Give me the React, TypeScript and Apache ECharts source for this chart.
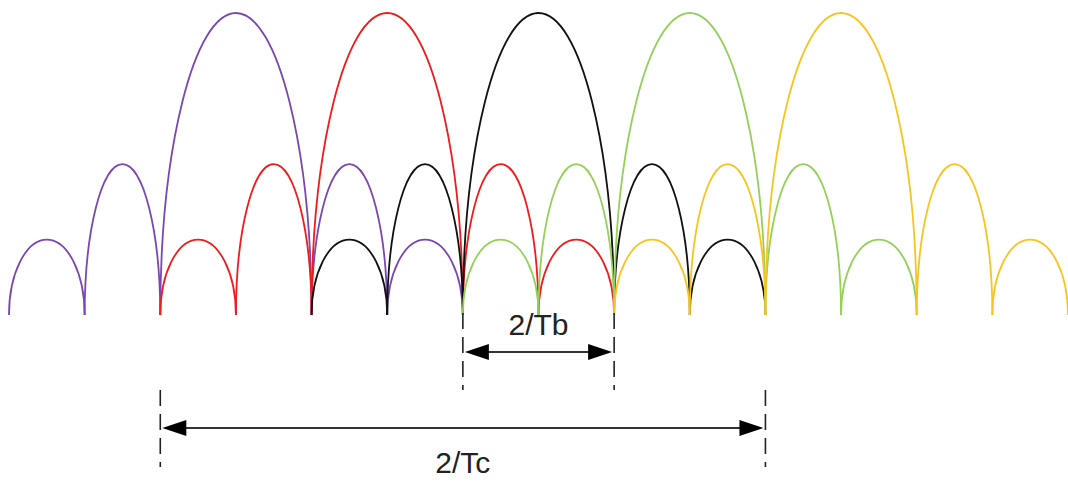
import React, { useEffect, useRef } from "react";
import * as echarts from "echarts";

// Each lobe: [start, end, peak height] in units of 1/Tb
const purpleLobes = [[0, 1, 0.25], [1, 2, 0.5], [2, 4, 1], [4, 5, 0.5], [5, 6, 0.25]];
const redLobes = [[2, 3, 0.25], [3, 4, 0.5], [4, 6, 1], [6, 7, 0.5], [7, 8, 0.25]];
const blackLobes = [[4, 5, 0.25], [5, 6, 0.5], [6, 8, 1], [8, 9, 0.5], [9, 10, 0.25]];
const greenLobes = [[6, 7, 0.25], [7, 8, 0.5], [8, 10, 1], [10, 11, 0.5], [11, 12, 0.25]];
const yellowLobes = [[8, 9, 0.25], [9, 10, 0.5], [10, 12, 1], [12, 13, 0.5], [13, 14, 0.25]];

const lobeSets = [purpleLobes, redLobes, blackLobes, greenLobes, yellowLobes];
const lobeNames = ["purple", "red", "black", "green", "yellow"];
const lobeColors = ["#7a48b0", "#ee1c1c", "#111111", "#94d05a", "#f8c420"];

// Dimension spans
const spanLabels = ["2/Tb", "2/Tc"];
const spanFrom = [6, 2];
const spanTo = [8, 10];

// layout (chart units, below baseline)
const spanArrowY = [-0.1225, -0.374];
const spanLineTop = [0.007, -0.248];
const spanLineBottom = [-0.248, -0.503];
const spanLabelY = [-0.03, -0.488];

const X_MAX = 14;
const Y_MIN = -0.556;

const K = 0.5523;

function lobeRender(color: string) {
  return (params: any, api: any) => {
    const x0 = api.value(0);
    const x1 = api.value(1);
    const h = api.value(2);
    const p0 = api.coord([x0, 0]);
    const p1 = api.coord([x1, 0]);
    const pt = api.coord([(x0 + x1) / 2, h]);
    const cx = (p0[0] + p1[0]) / 2;
    const rx = (p1[0] - p0[0]) / 2;
    const y0 = p0[1];
    const yt = pt[1];
    const ry = y0 - yt;
    const d =
      `M ${p0[0]} ${y0} C ${p0[0]} ${y0 - K * ry} ${cx - K * rx} ${yt} ${cx} ${yt} ` +
      `C ${cx + K * rx} ${yt} ${p1[0]} ${y0 - K * ry} ${p1[0]} ${y0}`;
    return {
      type: "path",
      shape: { pathData: d },
      style: { fill: "none", stroke: color, lineWidth: 1.8 },
    };
  };
}

function spanRender(params: any, api: any) {
  const i = params.dataIndex;
  const x0 = api.value(0);
  const x1 = api.value(1);
  const a = api.coord([x0, spanArrowY[i]]);
  const b = api.coord([x1, spanArrowY[i]]);
  const t0 = api.coord([x0, spanLineTop[i]]);
  const b0 = api.coord([x0, spanLineBottom[i]]);
  const t1 = api.coord([x1, spanLineTop[i]]);
  const b1 = api.coord([x1, spanLineBottom[i]]);
  const lbl = api.coord([(x0 + x1) / 2, spanLabelY[i]]);
  const ah = 24;
  const aw = 8;
  const tipL = a[0] + 2;
  const tipR = b[0] - 2;
  const dashStyle = { stroke: "#222", lineWidth: 1.6, lineDash: [16, 8] };
  return {
    type: "group",
    children: [
      { type: "line", shape: { x1: t0[0], y1: t0[1], x2: b0[0], y2: b0[1] }, style: dashStyle },
      { type: "line", shape: { x1: t1[0], y1: t1[1], x2: b1[0], y2: b1[1] }, style: dashStyle },
      {
        type: "line",
        shape: { x1: tipL + ah - 2, y1: a[1], x2: tipR - ah + 2, y2: b[1] },
        style: { stroke: "#333", lineWidth: 2 },
      },
      {
        type: "polygon",
        shape: { points: [[tipL, a[1]], [tipL + ah, a[1] - aw], [tipL + ah, a[1] + aw]] },
        style: { fill: "#000" },
      },
      {
        type: "polygon",
        shape: { points: [[tipR, b[1]], [tipR - ah, b[1] - aw], [tipR - ah, b[1] + aw]] },
        style: { fill: "#000" },
      },
      {
        type: "text",
        x: lbl[0],
        y: lbl[1],
        style: {
          text: spanLabels[i],
          font: '30px "Liberation Sans", Arial, sans-serif',
          fill: "#222",
          align: "center",
          verticalAlign: "middle",
        },
      },
    ],
  };
}

export default function App() {
  const ref = useRef<HTMLDivElement>(null);
  useEffect(() => {
    if (!ref.current) return;
    const chart = echarts.init(ref.current, undefined, { renderer: "svg" });
    const series: any[] = lobeSets.map((set, i) => ({
      type: "custom",
      name: lobeNames[i],
      renderItem: lobeRender(lobeColors[i]),
      data: set,
      encode: { x: [0, 1], y: 2 },
      clip: false,
      silent: true,
    }));
    series.push({
      type: "custom",
      name: "spans",
      renderItem: spanRender,
      data: spanFrom.map((f, i) => [f, spanTo[i]]),
      encode: { x: [0, 1] },
      clip: false,
      silent: true,
    });
    chart.setOption({
      animation: false,
      backgroundColor: "#ffffff",
      grid: { left: 9, right: 0, top: 13, bottom: 0 },
      xAxis: { type: "value", min: 0, max: X_MAX, show: false },
      yAxis: { type: "value", min: Y_MIN, max: 1, show: false },
      series,
    });
    return () => chart.dispose();
  }, []);
  return (
    <div
      ref={ref}
      style={{ position: "absolute", left: 0, top: 0, width: 1068, height: 483 }}
    />
  );
}
